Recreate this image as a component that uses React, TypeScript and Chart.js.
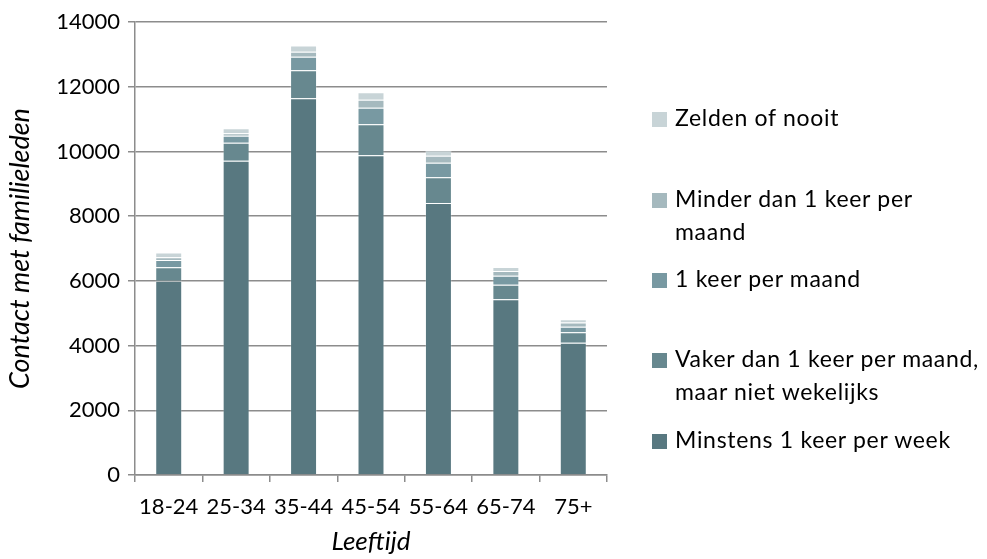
import React, { useEffect, useRef } from "react";
import { Chart, registerables } from "chart.js";

Chart.register(...registerables);

const categories = ["18-24", "25-34", "35-44", "45-54", "55-64", "65-74", "75+"];
const minstens = [6000, 9710, 11640, 9880, 8410, 5430, 4090];
const vaker = [420, 560, 865, 960, 790, 450, 320];
const eenKeer = [225, 215, 420, 510, 450, 280, 175];
const minder = [85, 75, 155, 250, 215, 145, 125];
const zelden = [150, 155, 195, 230, 175, 125, 105];
const yTicks = [0, 2000, 4000, 6000, 8000, 10000, 12000, 14000];

const seriesLabels = [
  "Minstens 1 keer per week",
  "Vaker dan 1 keer per maand, maar niet wekelijks",
  "1 keer per maand",
  "Minder dan 1 keer per maand",
  "Zelden of nooit",
];
const seriesColors = ["#587880", "#67888f", "#7899a2", "#a5b9be", "#c8d4d7"];
const seriesData = [minstens, vaker, eenKeer, minder, zelden];

const FONT = "Lato, sans-serif";
const FS = 22;

const legendItems = [
  { lines: ["Zelden of nooit"], color: seriesColors[4], top: 101 },
  { lines: ["Minder dan 1 keer per", "maand"], color: seriesColors[3], top: 182 },
  { lines: ["1 keer per maand"], color: seriesColors[2], top: 262 },
  { lines: ["Vaker dan 1 keer per maand,", "maar niet wekelijks"], color: seriesColors[1], top: 342 },
  { lines: ["Minstens 1 keer per week"], color: seriesColors[0], top: 423 },
];

export default function App() {
  const ref = useRef<HTMLCanvasElement | null>(null);

  useEffect(() => {
    document.body.style.margin = "0";
    const ctx = ref.current!.getContext("2d")!;
    const chart = new Chart(ctx, {
      type: "bar",
      data: {
        labels: categories,
        datasets: seriesData.map((d, i) => ({
          label: seriesLabels[i],
          data: d,
          backgroundColor: seriesColors[i],
          borderColor: "rgba(255,255,255,0.22)",
          borderWidth: 1,
          barPercentage: 0.4,
          categoryPercentage: 1,
        })),
      },
      options: {
        responsive: false,
        animation: false,
        devicePixelRatio: 1,
        layout: { padding: { left: 0, right: 380, top: 22, bottom: 0 } },
        plugins: {
          legend: { display: false },
          tooltip: { enabled: false },
        },
        scales: {
          x: {
            stacked: true,
            offset: true,
            grid: {
              offset: true,
              drawOnChartArea: false,
              drawTicks: true,
              tickLength: 7,
              color: "#8c8c8c",
              lineWidth: 1.5,
            },
            border: { color: "#8c8c8c", width: 1.5 },
            ticks: {
              color: "#000",
              font: { family: FONT, size: FS },
              padding: 12,
              maxRotation: 0,
              autoSkip: false,
            },
            title: {
              display: true,
              text: "Leeftijd",
              color: "#000",
              font: { family: FONT, size: 26, style: "italic" },
              padding: { top: 0, bottom: 2 },
            },
            afterFit: (s: any) => {
              s.height = 84;
            },
          },
          y: {
            stacked: true,
            min: 0,
            max: 14000,
            afterBuildTicks: (s: any) => {
              s.ticks = yTicks.map((v) => ({ value: v }));
            },
            grid: {
              color: "#8c8c8c",
              lineWidth: 1.5,
              tickLength: 7,
              drawTicks: true,
            },
            border: { color: "#8c8c8c", width: 1.5 },
            ticks: {
              color: "#000",
              font: { family: FONT, size: FS },
              padding: 8,
              callback: (v: any) => String(v),
            },
            title: {
              display: true,
              text: "Contact met familieleden",
              color: "#000",
              font: { family: FONT, size: 27, style: "italic" },
              padding: { top: 4, bottom: 4 },
            },
            afterFit: (s: any) => {
              s.width = 135;
            },
          },
        },
      },
    });
    return () => chart.destroy();
  }, []);

  return (
    <div style={{ position: "relative", width: 987, height: 559, background: "#fff" }}>
      <canvas ref={ref} width={987} height={559} style={{ display: "block" }} />
      {legendItems.map((it, i) => (
        <div
          key={i}
          style={{
            position: "absolute",
            left: 652,
            top: it.top,
            fontFamily: FONT,
            fontSize: 23,
            letterSpacing: "0.7px",
            lineHeight: "33px",
            color: "#000",
          }}
        >
          <span
            style={{
              position: "absolute",
              left: 0,
              top: 11,
              width: 15,
              height: 15,
              background: it.color,
            }}
          />
          <div style={{ marginLeft: 23, whiteSpace: "nowrap" }}>
            {it.lines.map((l, j) => (
              <div key={j}>{l}</div>
            ))}
          </div>
        </div>
      ))}
    </div>
  );
}
